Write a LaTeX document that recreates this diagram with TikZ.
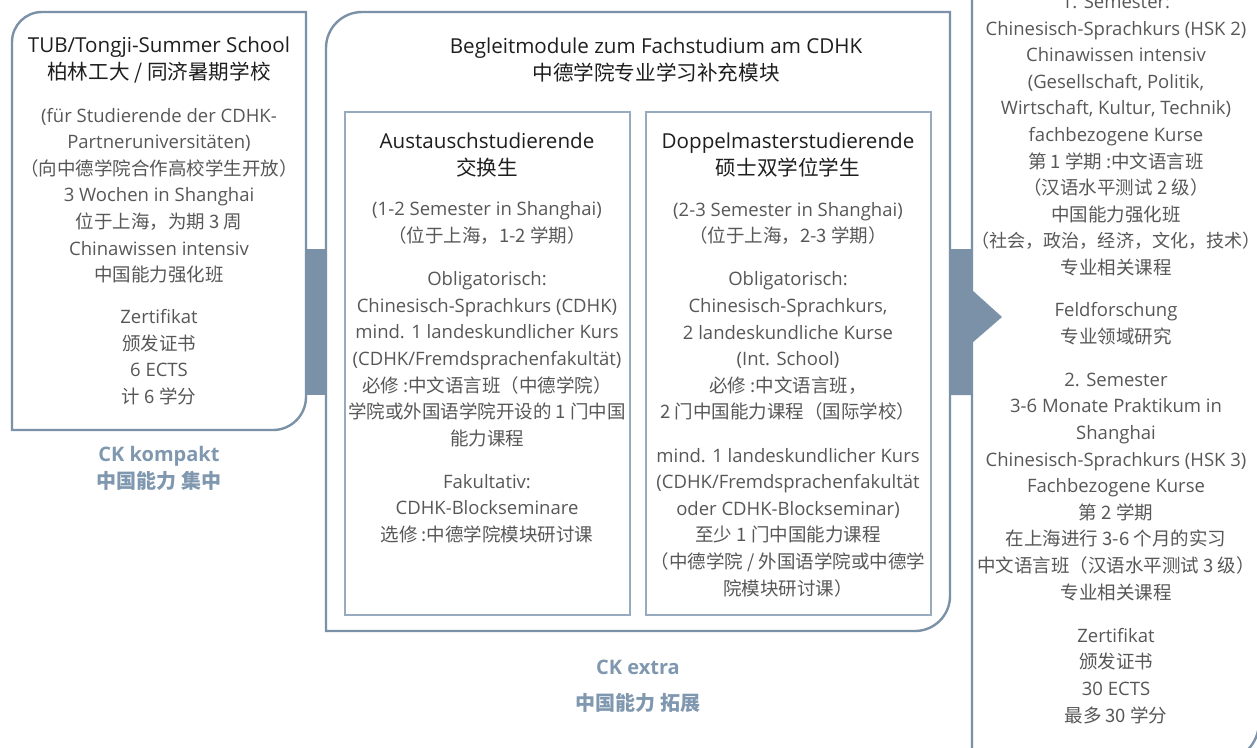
\documentclass[tikz,border=0pt]{standalone}
\usepackage{fontspec}
\setmainfont{Open Sans}
\newfontfamily\cjk{Noto Sans CJK SC}
\newcommand\zh[1]{{\cjk #1}}
\definecolor{boxc}{HTML}{7A91A8}
\definecolor{innerc}{HTML}{98AABD}
\definecolor{bodyc}{HTML}{575757}
\definecolor{titlec}{HTML}{1E1E1E}
\definecolor{lblc}{HTML}{8098AF}
\begin{document}
\begin{tikzpicture}[x=1pt,y=-1pt,
  boxline/.style={draw=boxc, line width=2.4pt},
  innerline/.style={draw=innerc, line width=1.3pt},
  band/.style={fill=boxc},
  txt/.style={align=center, inner sep=0pt, anchor=base, text=bodyc, font=\fontsize{18.5}{26.6}\selectfont},
  ttl/.style={align=center, inner sep=0pt, anchor=base, text=titlec, font=\fontsize{20.6}{27.3}\selectfont},
  lbl/.style={align=center, inner sep=0pt, anchor=base, text=lblc, font=\bfseries\fontsize{20}{26.5}\selectfont}]
\useasboundingbox (0,0) rectangle (1257,747);
\begin{scope}
\clip (0,0) rectangle (1257,747);
% left box
\draw[boxline] (12,430) -- (12,42) arc[start angle=180,end angle=270,radius=30] -- (306,12) -- (306,397) arc[start angle=0,end angle=90,radius=33] -- cycle;
% middle box
\draw[boxline] (326,631) -- (326,48) arc[start angle=180,end angle=270,radius=36] -- (950,12) -- (950,596) arc[start angle=0,end angle=90,radius=35] -- cycle;
% inner boxes
\draw[innerline] (345,112) rectangle (630,615);
\draw[innerline] (646,112) rectangle (931,615);
% right box
\draw[boxline] (1259,-40) -- (1259,722) arc[start angle=0,end angle=90,radius=40] -- (972,762) -- (972,-40);
% connector bands
\coordinate (lA) at (306,249);
\coordinate (lB) at (326,395);
\fill[band] (lA) rectangle (lB);
\coordinate (rA) at (950,249);
\coordinate (rB) at (972,249);
\coordinate (rTip) at (1002,317);
\fill[band] (rA) -- (rB) -- (972,290) -- (rTip) -- (972,343) -- (972,395) -- (950,395) -- cycle;
\end{scope}

% left box text (node base = baseline of last line)
\node[ttl] (lt) at (159,79.5) {TUB/Tongji-Summer School\\ \zh{柏林工大 / 同济暑期学校}};
\node[txt] (lb) at (159,403.5) {(für Studierende der CDHK-\\ Partneruniversitäten)\\ \zh{（向中德学院合作高校学生开放）}\\ 3 Wochen in Shanghai\\ \zh{位于上海，为期 3 周}\\ Chinawissen intensiv\\ \zh{中国能力强化班}\\[15.5pt] Zertifikat\\ \zh{颁发证书}\\ 6 ECTS\\ \zh{计 6 学分}};
\node[lbl] (ll) at (159,488) {CK kompakt\\ \zh{\bfseries 中国能力 集中}};

% middle title
\node[ttl] (mt) at (656,80.5) {Begleitmodule zum Fachstudium am CDHK\\ \zh{中德学院专业学习补充模块}};

% inner left
\node[ttl] (at) at (487,175.5) {Austauschstudierende\\ \zh{交换生}};
\node[txt] (ab) at (487,541.5) {(1-2 Semester in Shanghai)\\ \zh{（位于上海，1-2 学期）}\\[16.5pt] Obligatorisch:\\ Chinesisch-Sprachkurs (CDHK)\\ mind. 1 landeskundlicher Kurs\\ (CDHK/Fremdsprachenfakultät)\\ \zh{必修 :中文语言班（中德学院）}\\ \zh{学院或外国语学院开设的 1 门中国}\\ \zh{能力课程}\\[16.5pt] Fakultativ:\\ CDHK-Blockseminare\\ \zh{选修 :中德学院模块研讨课}};

% inner right
\node[ttl] (dt) at (788,175.5) {Doppelmasterstudierende\\ \zh{硕士双学位学生}};
\node[txt] (db) at (788,595) {(2-3 Semester in Shanghai)\\ \zh{（位于上海，2-3 学期）}\\[16.5pt] Obligatorisch:\\ Chinesisch-Sprachkurs,\\ 2 landeskundliche Kurse\\ (Int. School)\\ \zh{必修 :中文语言班，}\\ \zh{2 门中国能力课程（国际学校）}\\[16.5pt] mind. 1 landeskundlicher Kurs\\ (CDHK/Fremdsprachenfakultät\\ oder CDHK-Blockseminar)\\ \zh{至少 1 门中国能力课程}\\ \zh{（中德学院 / 外国语学院或中德学}\\ \zh{院模块研讨课）}};

\node[lbl] (ml) at (638,710) {CK extra\\[9.5pt] \zh{\bfseries 中国能力 拓展}};

% right box
\node[txt] (rb) at (1116,722) {1. Semester:\\ Chinesisch-Sprachkurs (HSK 2)\\ Chinawissen intensiv\\ (Gesellschaft, Politik,\\ Wirtschaft, Kultur, Technik)\\ fachbezogene Kurse\\ \zh{第 1 学期 :中文语言班}\\ \zh{（汉语水平测试 2 级）}\\ \zh{中国能力强化班}\\ {\fontsize{18.1}{26.6}\selectfont\zh{（社会，政治，经济，文化，技术）}}\\ \zh{专业相关课程}\\[15.5pt] Feldforschung\\ \zh{专业领域研究}\\[16.5pt] 2. Semester\\ 3-6 Monate Praktikum in\\ Shanghai\\ Chinesisch-Sprachkurs (HSK 3)\\ Fachbezogene Kurse\\ \zh{第 2 学期}\\ \zh{在上海进行 3-6 个月的实习}\\ \zh{中文语言班（汉语水平测试 3 级）}\\ \zh{专业相关课程}\\[16.5pt] Zertifikat\\ \zh{颁发证书}\\ 30 ECTS\\ \zh{最多 30 学分}};
\end{tikzpicture}
\end{document}
